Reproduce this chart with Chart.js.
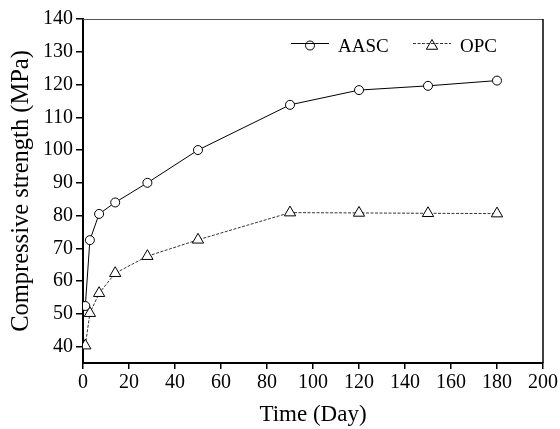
<!DOCTYPE html>
<html><head><meta charset="utf-8">
<script src="https://cdn.jsdelivr.net/npm/chart.js@4/dist/chart.umd.min.js"></script>
<style>html,body{margin:0;padding:0;background:#fff}#wrap{width:560px;height:429px}</style>
</head><body><div id="wrap"><canvas id="c" width="560" height="429"></canvas></div>
<script>
// ---- data ----
const days = [1, 3, 7, 14, 28, 50, 90, 120, 150, 180];
const aascStrength = [52.4, 72.5, 80.5, 84.0, 90.0, 100.0, 113.8, 118.3, 119.6, 121.2];
const opcStrength = [40.3, 50.2, 56.3, 62.4, 67.6, 72.6, 80.9, 80.8, 80.7, 80.6];
const seriesLabels = ['AASC', 'OPC'];
const xTickValues = [0, 20, 40, 60, 80, 100, 120, 140, 160, 180, 200];
const yTickValues = [40, 50, 60, 70, 80, 90, 100, 110, 120, 130, 140];
const xTitle = 'Time (Day)';
const yTitle = 'Compressive strength (MPa)';

const FONT = "'Liberation Serif', 'Times New Roman', serif";

function toPoints(xs, ys) { return xs.map((x, i) => ({x: x, y: ys[i]})); }

const framePlugin = {
  id: 'frame',
  afterDraw(chart) {
    const ctx = chart.ctx, a = chart.chartArea;
    ctx.save();
    // top border
    ctx.strokeStyle = '#555'; ctx.lineWidth = 1;
    ctx.beginPath(); ctx.moveTo(a.left, a.top + 0.5); ctx.lineTo(a.right, a.top + 0.5); ctx.stroke();
    // right border
    ctx.strokeStyle = '#000'; ctx.lineWidth = 1.5;
    ctx.beginPath(); ctx.moveTo(a.right, a.top); ctx.lineTo(a.right, a.bottom); ctx.stroke();

    // legend inside the plot area
    const items = chart.data.datasets;
    const startX = [a.left + 208, a.left + 330];
    const lineY = a.top + 24.5;
    items.forEach((ds, i) => {
      const x0 = startX[i];
      ctx.strokeStyle = ds.borderColor; ctx.lineWidth = ds.borderWidth;
      ctx.setLineDash(ds.borderDash || []);
      ctx.beginPath(); ctx.moveTo(x0, lineY); ctx.lineTo(x0 + 38, lineY); ctx.stroke();
      ctx.setLineDash([]);
      ctx.fillStyle = 'rgba(0,0,0,0)'; ctx.strokeStyle = '#000';
      Chart.helpers.drawPoint(ctx, {pointStyle: ds.pointStyle, radius: ds.pointRadius, borderWidth: ds.pointBorderWidth, rotation: 0},
        x0 + 19, lineY + (ds.pointStyle === 'triangle' ? 2.5 : 2));
      ctx.fillStyle = '#000';
      ctx.font = '19px ' + FONT;
      ctx.textBaseline = 'alphabetic'; ctx.textAlign = 'left';
      ctx.fillText(ds.label, x0 + 47, a.top + 32.5);
    });
    ctx.restore();
  }
};

new Chart(document.getElementById('c'), {
  type: 'line',
  data: {
    datasets: [
      {
        label: seriesLabels[0], data: toPoints(days, aascStrength),
        borderColor: '#000', borderWidth: 1, pointStyle: 'circle', pointRadius: 4.5,
        pointBorderWidth: 1, pointBorderColor: '#000', pointBackgroundColor: '#fff', tension: 0
      },
      {
        label: seriesLabels[1], data: toPoints(days, opcStrength),
        borderColor: '#333', borderWidth: 1, borderDash: [3, 1.5], pointStyle: 'triangle', pointRadius: 6.5,
        pointBorderWidth: 1, pointBorderColor: '#000', pointBackgroundColor: '#fff', tension: 0
      }
    ]
  },
  options: {
    responsive: false, animation: false, devicePixelRatio: 1,
    layout: {padding: {top: 19, right: 17, left: 0, bottom: 0}},
    plugins: {legend: {display: false}, tooltip: {enabled: false}},
    scales: {
      x: {
        type: 'linear', min: 0, max: 200,
        afterBuildTicks: s => { s.ticks = xTickValues.map(v => ({value: v})); },
        afterFit: s => { s.height = 66; },
        grid: {display: true, drawOnChartArea: false, drawTicks: true, tickLength: 6, color: '#000', lineWidth: 1.5},
        border: {display: true, color: '#000', width: 2},
        ticks: {color: '#000', font: {family: FONT, size: 20}, padding: 2, maxRotation: 0},
        title: {display: true, text: xTitle, color: '#000', font: {family: FONT, size: 23}, padding: {top: 0, bottom: 0}}
      },
      y: {
        type: 'linear', min: 35, max: 140,
        afterBuildTicks: s => { s.ticks = yTickValues.map(v => ({value: v})); },
        afterFit: s => { s.width = 83; },
        grid: {display: true, drawOnChartArea: false, drawTicks: true, tickLength: 7, color: '#000', lineWidth: 1.5},
        border: {display: true, color: '#000', width: 2},
        ticks: {color: '#000', font: {family: FONT, size: 20}, padding: 3},
        title: {display: true, text: yTitle, color: '#000', font: {family: FONT, size: 24.5}, padding: {top: 7, bottom: 0}}
      }
    }
  },
  plugins: [framePlugin]
});
</script>
</body></html>
